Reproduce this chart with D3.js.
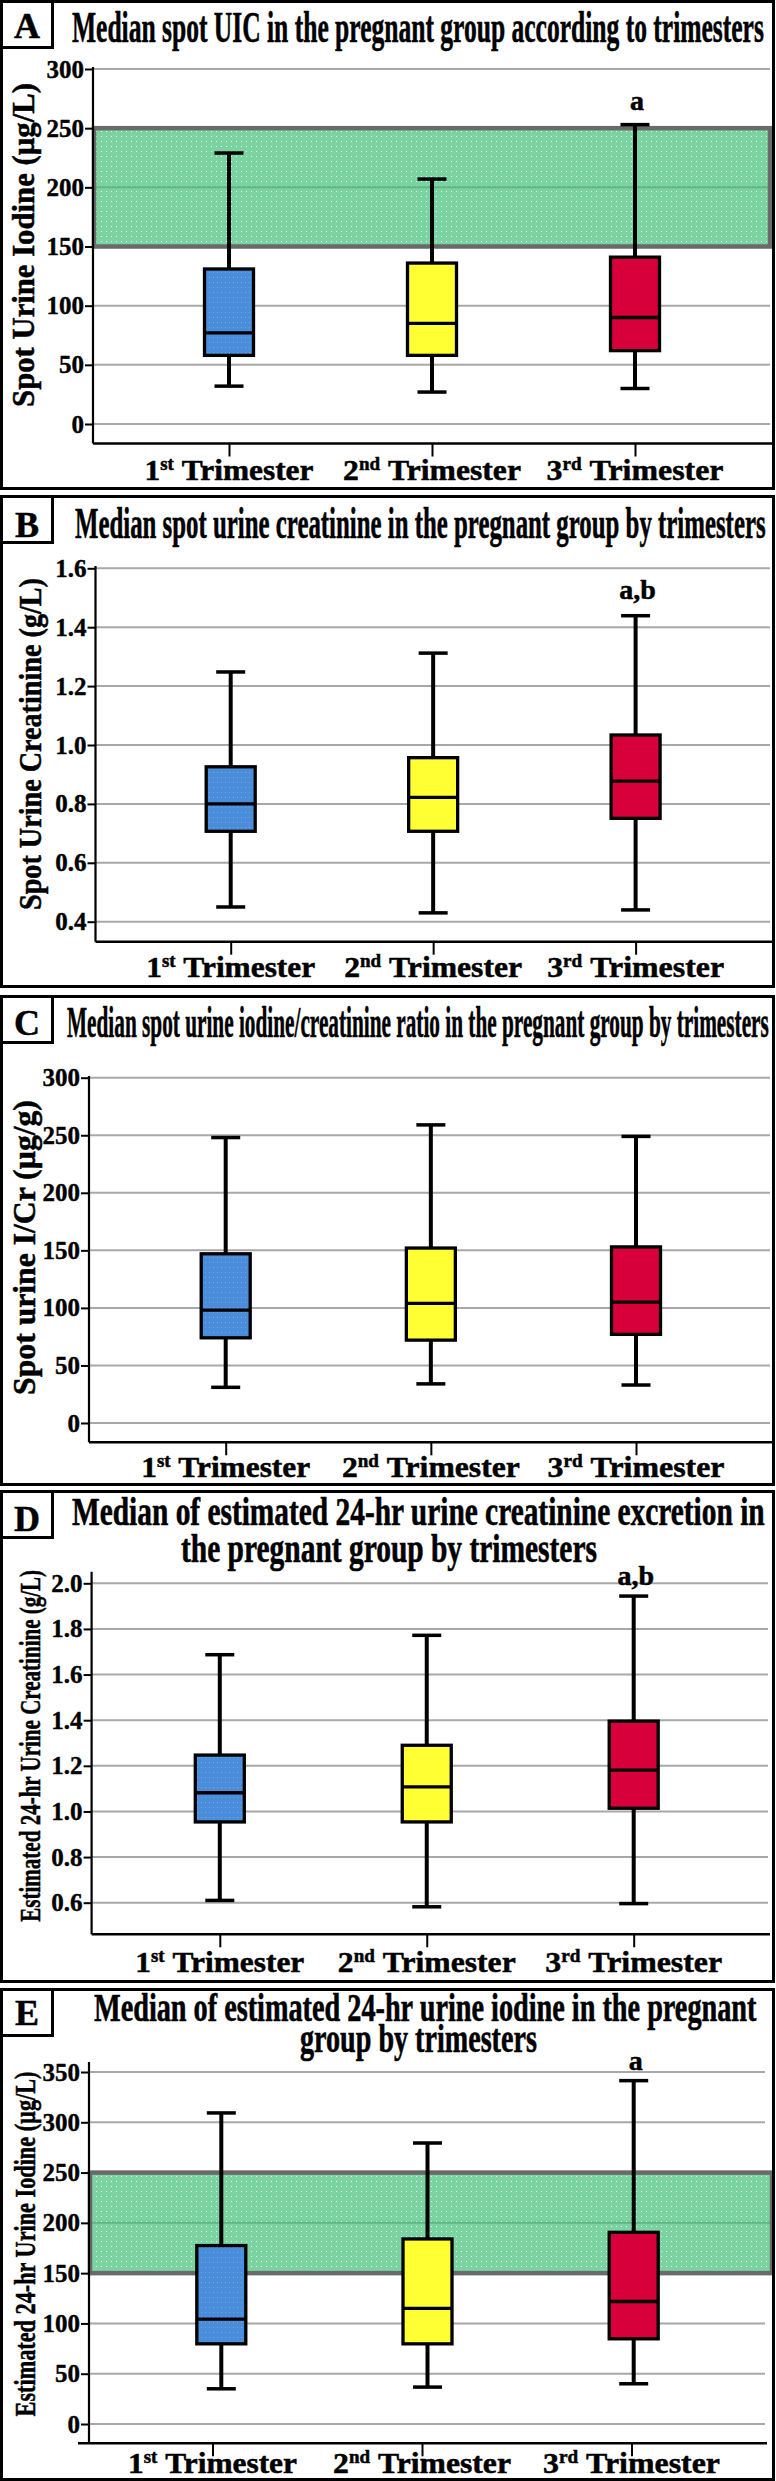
<!DOCTYPE html>
<html><head><meta charset="utf-8">
<script src="https://cdn.jsdelivr.net/npm/d3@7"></script>
<style>body{margin:0;background:#fff} svg{display:block}</style>
</head><body><svg id="c" width="776" height="2481"></svg>
<script>
// ---------------- DATA ----------------
const trimesterNums = ["1", "2", "3"];
const trimesterSups = ["st", "nd", "rd"];
const trimesterWord = "Trimester";
const trimesters = ["T1", "T2", "T3"];

const panelLetters = ["A", "B", "C", "D", "E"];
const panelTitles = [
  ["Median spot UIC in the pregnant group according to trimesters"],
  ["Median spot urine creatinine in the pregnant group by trimesters"],
  ["Median spot urine iodine/creatinine ratio in the pregnant group by trimesters"],
  ["Median of estimated 24-hr urine creatinine excretion in", "the pregnant group by trimesters"],
  ["Median of estimated 24-hr urine iodine in the pregnant", "group by trimesters"]
];
const yAxisTitles = [
  "Spot Urine Iodine (µg/L)",
  "Spot Urine Creatinine (g/L)",
  "Spot urine I/Cr (µg/g)",
  "Estimated 24-hr Urine Creatinine (g/L)",
  "Estimated 24-hr Urine Iodine (µg/L)"
];

// box stats per trimester: [min, Q1, median, Q3, max]
const spotUIC = [[32, 58, 77, 131, 229], [27, 58, 85, 136, 207], [30, 62, 90, 141, 253]];
const spotCreatinine = [[0.45, 0.707, 0.80, 0.926, 1.248], [0.43, 0.707, 0.822, 0.957, 1.312], [0.44, 0.751, 0.877, 1.034, 1.439]];
const spotICr = [[31, 74, 98, 147, 248], [34, 72, 104, 152, 259], [33, 77, 105, 153, 249]];
const est24Creatinine = [[0.61, 0.954, 1.082, 1.247, 1.687], [0.582, 0.954, 1.108, 1.29, 1.772], [0.596, 1.014, 1.181, 1.396, 1.944]];
const est24Iodine = [[35, 79.7, 104.3, 177.4, 309.3], [36.7, 79.7, 114.9, 184, 279.4], [40, 84.7, 121.8, 190.6, 341.4]];

const sigSpotUIC = ["", "", "a"];
const sigSpotCreatinine = ["", "", "a,b"];
const sigSpotICr = ["", "", ""];
const sig24Creatinine = ["", "", "a,b"];
const sig24Iodine = ["", "", "a"];

const ticksSpotUIC = [0, 50, 100, 150, 200, 250, 300];
const ticksSpotCreatinine = [0.4, 0.6, 0.8, 1.0, 1.2, 1.4, 1.6];
const ticksSpotICr = [0, 50, 100, 150, 200, 250, 300];
const ticks24Creatinine = [0.6, 0.8, 1.0, 1.2, 1.4, 1.6, 1.8, 2.0];
const ticks24Iodine = [0, 50, 100, 150, 200, 250, 300, 350];

const iodineAdequateRange = [150, 250];

// ---------------- LAYOUT ----------------
const FONT = "'Liberation Serif','Times New Roman',Times,serif";
const boxColors = ["#4a8edb", "#ffff33", "#d7003a"];
const xLabelWidths = [169, 178, 177];

const panels = [
  { stats: spotUIC, ticks: ticksSpotUIC, fmt: "d", sig: sigSpotUIC, band: iodineAdequateRange,
    top: 0, h: 490, letterY: 38, titleSize: 45, title: [[72, 764, 41.7]],
    axisX: 93, axisTop: 67, xAxisY: 443.5, xAxisLeft: 93, yRange: [424, 69],
    boxRange: [229, 635], tickRange: [229, 635], gridRight: 770, bandX: [94, 770],
    yTitle: [33.5, 245, 324], yTitleSize: 31, xLabelY: 480, sigY: 110 },
  { stats: spotCreatinine, ticks: ticksSpotCreatinine, fmt: ".1f", sig: sigSpotCreatinine, band: null,
    top: 495, h: 493, letterY: 537, titleSize: 45, title: [[75, 766, 538.3]],
    axisX: 95.5, axisTop: 566, xAxisY: 941.7, xAxisLeft: 95.5, yRange: [921.7, 568.3],
    boxRange: [230.7, 635.6], tickRange: [230.7, 635.6], gridRight: 770,
    yTitle: [40.5, 744, 332], yTitleSize: 31, xLabelY: 976.7, sigY: 599 },
  { stats: spotICr, ticks: ticksSpotICr, fmt: "d", sig: sigSpotICr, band: null,
    top: 995, h: 491, letterY: 1035, titleSize: 45, title: [[67, 769, 1036.7]],
    axisX: 89, axisTop: 1076, xAxisY: 1442.3, xAxisLeft: 89, yRange: [1423, 1077.7],
    boxRange: [225.7, 636], tickRange: [225.7, 636], gridRight: 770,
    yTitle: [34.5, 1247.5, 295], yTitleSize: 31, xLabelY: 1477.3, sigY: 1100 },
  { stats: est24Creatinine, ticks: ticks24Creatinine, fmt: ".1f", sig: sig24Creatinine, band: null,
    top: 1490, h: 493, letterY: 1531, titleSize: 41, title: [[72, 765, 1525], [181, 597, 1561.7]],
    axisX: 91.6, axisTop: 1571.7, xAxisY: 1934.3, xAxisLeft: 91.6, yRange: [1902.7, 1583.3],
    boxRange: [219.8, 633.7], tickRange: [219.8, 633.7], gridRight: 768,
    yTitle: [39.5, 1745.8, 352], yTitleSize: 30, xLabelY: 1971.7, sigY: 1585 },
  { stats: est24Iodine, ticks: ticks24Iodine, fmt: "d", sig: sig24Iodine, band: iodineAdequateRange,
    top: 1988, h: 493, letterY: 2025, titleSize: 41, title: [[94, 757, 2021], [300, 537, 2051.7]],
    axisX: 89, axisTop: 2062, xAxisY: 2443.3, xAxisLeft: 78, yRange: [2424, 2072],
    boxRange: [221.3, 633.7], tickRange: [212.5, 631.5], gridRight: 765, bandX: [90, 772],
    yTitle: [34.5, 2244, 345], yTitleSize: 30, xLabelY: 2472.5, sigY: 2070 }
];

// ---------------- DRAW ----------------
const svg = d3.select("#c");
svg.append("rect").attr("width", 776).attr("height", 2481).attr("fill", "#fff");

const defs = svg.append("defs");
const dots = defs.append("pattern").attr("id", "dots").attr("patternUnits", "userSpaceOnUse")
  .attr("width", 5).attr("height", 5);
dots.append("rect").attr("x", 1).attr("y", 1).attr("width", 1).attr("height", 1)
  .attr("fill", "#fff").attr("opacity", 0.8);
const bdots = defs.append("pattern").attr("id", "bdots").attr("patternUnits", "userSpaceOnUse")
  .attr("width", 4).attr("height", 5);
bdots.append("rect").attr("x", 1).attr("y", 2).attr("width", 1).attr("height", 1)
  .attr("fill", "#7db4ea").attr("opacity", 0.7);

function boldText(sel, size, stroke) {
  return sel.attr("font-family", FONT).attr("font-weight", "bold").attr("font-size", size)
    .attr("fill", "#000").attr("stroke", "#000").attr("stroke-width", stroke)
    .attr("stroke-linejoin", "round");
}

function fitText(sel, x, y, width, rot) {
  const w = sel.node().getBBox().width;
  const k = width / w;
  sel.attr("transform", `translate(${x},${y})` + (rot ? ` rotate(${rot})` : "") + ` scale(${k},1)`);
  return k;
}

panels.forEach((p, pi) => {
  const g = svg.append("g");
  const y = d3.scaleLinear().domain([p.ticks[0], p.ticks[p.ticks.length - 1]]).range(p.yRange);
  const xb = d3.scalePoint().domain(trimesters).range(p.boxRange);
  const xt = d3.scalePoint().domain(trimesters).range(p.tickRange);

  // gridlines
  g.append("g").selectAll("line").data(p.ticks).join("line")
    .attr("x1", p.axisX).attr("x2", p.gridRight)
    .attr("y1", d => y(d)).attr("y2", d => y(d))
    .attr("stroke", "#a8a8a8").attr("stroke-width", 2);

  // reference band
  if (p.band) {
    const by0 = y(p.band[1]), by1 = y(p.band[0]);
    g.append("rect").attr("x", p.bandX[0]).attr("y", by0)
      .attr("width", p.bandX[1] - p.bandX[0]).attr("height", by1 - by0).attr("fill", "#7bd3a1");
    g.append("rect").attr("x", p.bandX[0]).attr("y", by0)
      .attr("width", p.bandX[1] - p.bandX[0]).attr("height", by1 - by0).attr("fill", "url(#dots)");
    g.append("g").selectAll("line").data(p.ticks.filter(t => t > p.band[0] && t < p.band[1])).join("line")
      .attr("x1", p.bandX[0]).attr("x2", p.bandX[1])
      .attr("y1", d => y(d)).attr("y2", d => y(d))
      .attr("stroke", "#5db684").attr("stroke-width", 2);
    g.append("rect").attr("x", p.bandX[0]).attr("y", by0)
      .attr("width", p.bandX[1] - p.bandX[0]).attr("height", by1 - by0)
      .attr("fill", "none").attr("stroke", "#6a6a6a").attr("stroke-width", 4.5);
  }

  // y axis
  const fmt = d3.format(p.fmt);
  const ya = g.append("g").attr("transform", `translate(${p.axisX},0)`)
    .call(d3.axisLeft(y).tickValues(p.ticks).tickFormat(fmt).tickSize(8).tickSizeOuter(0).tickPadding(1));
  ya.select(".domain").remove();
  ya.selectAll(".tick line").attr("stroke", "#000").attr("stroke-width", 2);
  boldText(ya.selectAll(".tick text"), 25, 0.4).attr("dy", "0.32em");
  g.append("line").attr("x1", p.axisX).attr("x2", p.axisX).attr("y1", p.axisTop).attr("y2", p.xAxisY)
    .attr("stroke", "#000").attr("stroke-width", 2.2);

  // x axis
  const xa = g.append("g").attr("transform", `translate(0,${p.xAxisY})`)
    .call(d3.axisBottom(xt).tickSize(13).tickSizeOuter(0).tickFormat(""));
  xa.select(".domain").remove();
  xa.selectAll(".tick text").remove();
  xa.selectAll(".tick line").attr("stroke", "#000").attr("stroke-width", 2);
  g.append("line").attr("x1", p.xAxisLeft).attr("x2", p.gridRight + 2).attr("y1", p.xAxisY).attr("y2", p.xAxisY)
    .attr("stroke", "#000").attr("stroke-width", 2.6);

  // boxes
  const bw = 49, cw = 29;
  const bg = g.append("g").selectAll("g").data(p.stats).join("g");
  bg.append("line").attr("x1", (d, i) => xb(trimesters[i])).attr("x2", (d, i) => xb(trimesters[i]))
    .attr("y1", d => y(d[0])).attr("y2", d => y(d[4])).attr("stroke", "#000").attr("stroke-width", 4);
  bg.append("line").attr("x1", (d, i) => xb(trimesters[i]) - cw / 2).attr("x2", (d, i) => xb(trimesters[i]) + cw / 2)
    .attr("y1", d => y(d[4])).attr("y2", d => y(d[4])).attr("stroke", "#000").attr("stroke-width", 3.5);
  bg.append("line").attr("x1", (d, i) => xb(trimesters[i]) - cw / 2).attr("x2", (d, i) => xb(trimesters[i]) + cw / 2)
    .attr("y1", d => y(d[0])).attr("y2", d => y(d[0])).attr("stroke", "#000").attr("stroke-width", 3.5);
  bg.append("rect").attr("x", (d, i) => xb(trimesters[i]) - bw / 2).attr("width", bw)
    .attr("y", d => y(d[3])).attr("height", d => y(d[1]) - y(d[3]))
    .attr("fill", (d, i) => boxColors[i]);
  bg.filter((d, i) => i === 0).append("rect").attr("x", xb(trimesters[0]) - bw / 2).attr("width", bw)
    .attr("y", d => y(d[3])).attr("height", d => y(d[1]) - y(d[3])).attr("fill", "url(#bdots)");
  bg.append("rect").attr("x", (d, i) => xb(trimesters[i]) - bw / 2).attr("width", bw)
    .attr("y", d => y(d[3])).attr("height", d => y(d[1]) - y(d[3]))
    .attr("fill", "none").attr("stroke", "#000").attr("stroke-width", 3.3);
  bg.append("line").attr("x1", (d, i) => xb(trimesters[i]) - bw / 2).attr("x2", (d, i) => xb(trimesters[i]) + bw / 2)
    .attr("y1", d => y(d[2])).attr("y2", d => y(d[2])).attr("stroke", "#000").attr("stroke-width", 3.3);

  // significance letters
  p.sig.forEach((s, i) => {
    if (!s) return;
    boldText(g.append("text"), 28, 0.5).attr("x", xb(trimesters[i]) + 2).attr("y", p.sigY)
      .attr("text-anchor", "middle").text(s);
  });

  // x labels
  trimesters.forEach((t, i) => {
    const tx = boldText(g.append("text"), 30, 0.5).attr("text-anchor", "middle");
    tx.append("tspan").text(trimesterNums[i]);
    tx.append("tspan").attr("font-size", 18).attr("dy", -10).text(trimesterSups[i]);
    tx.append("tspan").attr("dy", 10).text("\u00a0" + trimesterWord);
    const w = tx.node().getBBox().width;
    tx.attr("transform", `translate(${xt(t)},${p.xLabelY}) scale(${xLabelWidths[i] / w},1)`);
  });

  // y axis title
  const yt = boldText(g.append("text"), p.yTitleSize, 0.5).attr("text-anchor", "middle").text(yAxisTitles[pi]);
  fitText(yt, p.yTitle[0], p.yTitle[1], p.yTitle[2], -90);

  // title
  panelTitles[pi].forEach((line, li) => {
    const [x0, x1, ty] = p.title[li];
    const tt = boldText(g.append("text"), p.titleSize, 0.6).text(line);
    fitText(tt, x0, ty, x1 - x0);
  });

  // panel border
  g.append("rect").attr("x", 1.5).attr("y", p.top + 1.5).attr("width", 772).attr("height", p.h - 3)
    .attr("fill", "none").attr("stroke", "#000").attr("stroke-width", 3);
  // letter box
  g.append("rect").attr("x", 1.5).attr("y", p.top + 1.5).attr("width", 51).attr("height", 46)
    .attr("fill", "#fff").attr("stroke", "#000").attr("stroke-width", 3);
  boldText(g.append("text"), 36, 0.5).attr("x", 27).attr("y", p.letterY).attr("text-anchor", "middle")
    .text(panelLetters[pi]);
});
</script>
</body></html>
